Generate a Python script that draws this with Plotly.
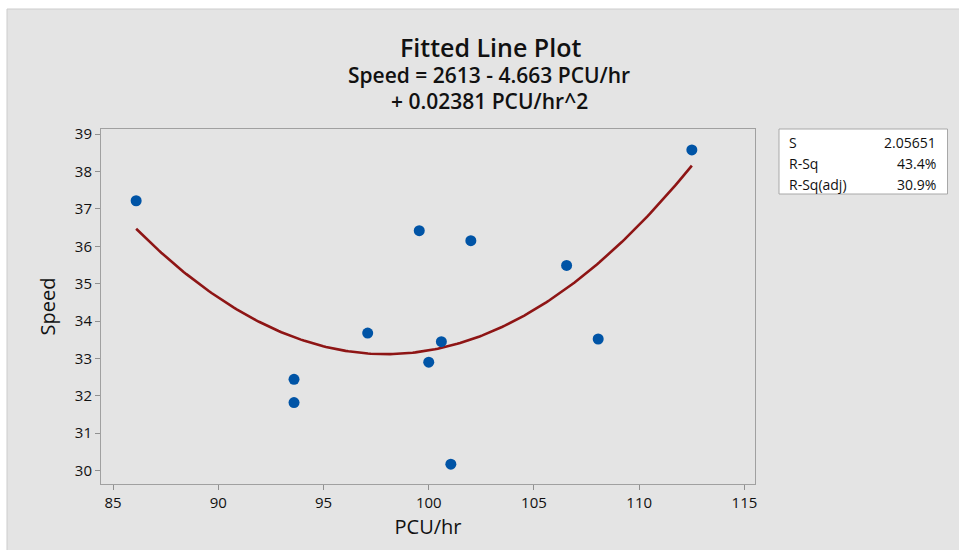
import numpy as np
import plotly.graph_objects as go

# Data
pcu_hr = [86.1, 93.6, 93.6, 97.1, 99.55, 100.0, 100.6, 101.05, 102.0, 106.55, 108.05, 112.5]
speed = [37.22, 32.44, 31.82, 33.68, 36.42, 32.90, 33.45, 30.17, 36.15, 35.49, 33.52, 38.58]

title_text = "Fitted Line Plot"
equation_line1 = "Speed = 2613 - 4.663 PCU/hr"
equation_line2 = "+ 0.02381 PCU/hr^2"

stats_labels = ["S", "R-Sq", "R-Sq(adj)"]
stats_values = ["2.05651", "43.4%", "30.9%"]

x_ticks = [85, 90, 95, 100, 105, 110, 115]
y_ticks = [30, 31, 32, 33, 34, 35, 36, 37, 38, 39]

# Quadratic least-squares fit of the plotted points (the fitted line)
c2, c1, c0 = np.polyfit(pcu_hr, speed, 2)
xf = np.linspace(min(pcu_hr), max(pcu_hr), 200)
yf = c0 + c1 * xf + c2 * xf ** 2

FONT = "Open Sans"
INK = "#111111"

fig = go.Figure()
fig.add_trace(go.Scatter(x=xf, y=yf, mode="lines",
                         line=dict(color="#8e1515", width=2.6), hoverinfo="skip"))
fig.add_trace(go.Scatter(x=pcu_hr, y=speed, mode="markers",
                         marker=dict(color="#0054a6", size=11, line=dict(width=0))))

L, R, T, B = 101, 204, 129, 66
W, H = 959, 550
pw, ph = W - L - R, H - T - B

def px(x):
    return (x - L) / pw

def py(y):
    return (H - B - y) / ph

shapes = [
    dict(type="rect", xref="paper", yref="paper", layer="below",
         x0=px(7), x1=px(962), y0=py(553), y1=py(9),
         fillcolor="#e4e4e4", line=dict(color="#cccccc", width=1)),
    dict(type="rect", xref="paper", yref="paper",
         x0=px(779), x1=px(947.5), y0=py(194), y1=py(129),
         fillcolor="white", line=dict(color="#a8a8a8", width=1)),
]

annotations = [
    dict(text=title_text, x=px(490), y=py(47), xref="paper", yref="paper",
         showarrow=False, xanchor="center", yanchor="middle",
         font=dict(family=FONT, size=25, color=INK, weight=600)),
    dict(text=equation_line1, x=px(489), y=py(75), xref="paper", yref="paper",
         showarrow=False, xanchor="center", yanchor="middle",
         font=dict(family=FONT, size=21, color=INK, weight=600)),
    dict(text=equation_line2, x=px(489), y=py(101), xref="paper", yref="paper",
         showarrow=False, xanchor="center", yanchor="middle",
         font=dict(family=FONT, size=21, color=INK, weight=600)),
]
rows_y = [143, 163.5, 184]
for lab, val, yy in zip(stats_labels, stats_values, rows_y):
    annotations.append(dict(text=lab, x=px(787), y=py(yy), xref="paper", yref="paper",
                            showarrow=False, xanchor="left", yanchor="middle",
                            font=dict(family=FONT, size=14, color=INK)))
    annotations.append(dict(text=val, x=px(938), y=py(yy), xref="paper", yref="paper",
                            showarrow=False, xanchor="right", yanchor="middle",
                            font=dict(family=FONT, size=14, color=INK)))

fig.update_layout(
    width=W, height=H,
    margin=dict(l=L, r=R, t=T, b=B),
    paper_bgcolor="white", plot_bgcolor="white",
    showlegend=False,
    shapes=shapes, annotations=annotations,
    font=dict(family=FONT, color=INK),
    xaxis=dict(range=[84.43, 115.5], tickvals=x_ticks, showgrid=False, zeroline=False,
               showline=True, linecolor="#a0a0a0", linewidth=1, mirror=True,
               ticks="outside", ticklen=5, tickcolor="#909090",
               tickfont=dict(size=15, family=FONT, color=INK),
               title=dict(text="PCU/hr", font=dict(size=20, family=FONT, color=INK), standoff=8)),
    yaxis=dict(range=[29.64, 39.14], tickvals=y_ticks, showgrid=False, zeroline=False,
               showline=True, linecolor="#a0a0a0", linewidth=1, mirror=True,
               ticks="outside", ticklen=5, tickcolor="#909090",
               tickfont=dict(size=15, family=FONT, color=INK),
               title=dict(text="Speed", font=dict(size=20, family=FONT, color=INK), standoff=13)),
)

fig.write_html("out.html")
